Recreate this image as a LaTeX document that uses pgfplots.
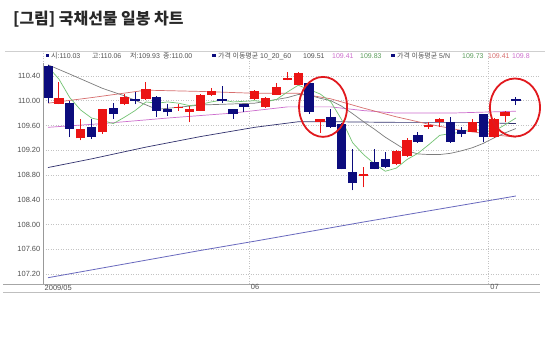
\documentclass[border=0pt]{standalone}
\usepackage{pgfplots}
\pgfplotsset{compat=1.18}
\usepackage{pgfplotstable}
\usepackage{fontspec}
\setmainfont{Liberation Sans}
\newfontfamily\kr{Noto Sans CJK KR}
\definecolor{cred}{RGB}{235,20,20}
\definecolor{cblue}{RGB}{12,12,125}
\definecolor{maA}{RGB}{115,195,115}
\definecolor{maB}{RGB}{125,125,125}
\definecolor{maC}{RGB}{215,110,110}
\definecolor{maD}{RGB}{205,110,205}
\definecolor{maE}{RGB}{50,50,110}
\definecolor{maF}{RGB}{105,105,190}
\definecolor{gridc}{RGB}{195,195,195}
\definecolor{txt}{RGB}{80,80,80}
\definecolor{circ}{RGB}{225,25,30}

% red (up) candles: index open high low close
\pgfplotstableread{
i o h l c
2 109.95 110.30 109.94 110.05
4 109.39 109.70 109.36 109.55
6 109.50 109.87 109.47 109.86
8 109.94 110.11 109.93 110.06
10 110.02 110.30 110.01 110.19
13 109.88 109.94 109.84 109.90
14 109.81 109.92 109.65 109.87
15 109.84 110.11 109.83 110.10
16 110.10 110.21 110.08 110.16
20 110.02 110.17 110.01 110.16
21 109.90 110.06 109.89 110.05
22 110.10 110.29 110.09 110.22
23 110.34 110.46 110.33 110.37
24 110.26 110.46 110.25 110.45
26 109.66 109.71 109.48 109.70
30 108.79 108.93 108.60 108.82
33 108.97 109.21 108.96 109.19
34 109.10 109.39 109.09 109.37
36 109.57 109.65 109.54 109.60
37 109.66 109.72 109.57 109.70
40 109.50 109.70 109.49 109.66
42 109.41 109.72 109.40 109.71
43 109.76 109.83 109.65 109.82
}\redc

% blue (down) candles: index open high low close
\pgfplotstableread{
i o h l c
1 110.56 110.57 109.97 110.05
3 109.97 109.99 109.41 109.55
5 109.58 109.70 109.38 109.41
7 109.89 109.97 109.71 109.79
9 110.03 110.14 109.94 110.00
11 110.06 110.07 109.74 109.84
12 109.86 109.94 109.76 109.81
17 110.02 110.24 109.97 110.00
18 109.86 109.87 109.71 109.78
19 109.94 109.95 109.81 109.90
25 110.29 110.30 109.79 109.82
27 109.74 109.86 109.56 109.57
28 109.63 109.64 108.89 108.90
29 108.85 109.22 108.55 108.67
31 109.01 109.22 108.89 108.90
32 109.06 109.17 108.92 108.93
35 109.44 109.49 109.32 109.33
38 109.65 109.73 109.32 109.33
39 109.52 109.57 109.41 109.46
41 109.78 109.79 109.33 109.42
44 110.03 110.06 109.93 110.00
}\bluec

\begin{document}
\begin{tikzpicture}[x=1bp,y=1bp]
\fill[white] (0,0) rectangle (550,-346);
% frame lines
\draw[gridc!80!white, line width=0.6bp] (5,-51) -- (545,-51);
\draw[black!35, line width=0.7bp] (3,-284) -- (540,-284);
\draw[black!25, line width=0.7bp] (3,-292) -- (540,-292);
\begin{axis}[
  at={(43bp,-284bp)}, anchor=south west,
  width=497bp, height=233bp, scale only axis,
  xmin=0.54, xmax=46.22, ymin=107.038, ymax=110.803,
  axis line style={draw=none},
  clip=false,
  major tick length=0pt,
  ytick={107.2,107.6,108.0,108.4,108.8,109.2,109.6,110.0,110.4},
  xtick={0.54,19.5,41.5},
  xticklabels={2009/05,06,07},
  /pgf/number format/assume math mode=true,
  /pgf/number format/fixed,
  /pgf/number format/fixed zerofill,
  /pgf/number format/precision=2,
  /pgf/number format/1000 sep={},
  tick label style={font=\fontsize{7.5}{8}\selectfont, text=txt},
  xticklabel style={anchor=north west, inner sep=0.5bp, xshift=1bp},
  yticklabel style={inner sep=2.5bp},
  grid=major,
  grid style={gridc, line width=0.6bp, dash pattern=on 1bp off 1.5bp},
]
% long moving averages
\addplot[maF, line width=0.8bp] coordinates {(1,107.14) (15,107.58) (20,107.73) (30,108.04) (44,108.46)};
\addplot[maE, line width=0.7bp] coordinates {(1,108.92) (5,109.06) (10,109.25) (15,109.42) (20,109.57) (24,109.66) (27,109.66) (33,109.65) (40,109.65) (44,109.63)};
\addplot[maD, line width=0.7bp] coordinates {(1,109.57) (6,109.63) (12,109.72) (18,109.80) (23,109.90) (27,109.90) (30,109.84) (33,109.80) (38,109.80) (44,109.83)};
\addplot[maC, line width=0.7bp] coordinates {(1,109.96) (5,110.05) (10,110.17) (15,110.15) (20,110.12) (24,110.12) (27,110.03) (30,109.88) (33,109.74) (36,109.62) (39,109.52) (42,109.45) (44,109.41)};
\addplot[maB, line width=0.7bp] coordinates {(1,110.58) (3,110.43) (6,110.20) (8,110.08) (11,109.86) (15,109.93) (20,109.96) (23,110.05) (24,110.10) (25,110.09) (26,110.04) (27,110.00) (28,109.91) (29,109.79) (30,109.66) (31,109.54) (32,109.41) (33,109.30) (34,109.19) (35,109.14) (36,109.13) (37,109.13) (38,109.15) (39,109.19) (40,109.24) (41,109.31) (42,109.40) (43,109.48) (44,109.55)};
\addplot[maA, line width=0.7bp] coordinates {(1,110.55) (2,110.35) (3,110.05) (4,109.85) (5,109.72) (6,109.68) (7,109.63) (8,109.73) (9,109.84) (10,109.98) (11,109.96) (12,109.98) (13,109.96) (14,109.92) (15,109.94) (16,109.98) (17,110.01) (18,109.98) (19,109.99) (20,110.00) (21,109.98) (22,110.02) (23,110.14) (24,110.25) (25,110.18) (26,110.11) (27,109.98) (28,109.69) (29,109.32) (30,109.13) (31,108.98) (32,108.86) (33,108.91) (34,109.05) (35,109.15) (36,109.29) (37,109.44) (38,109.47) (39,109.49) (40,109.55) (41,109.51) (42,109.51) (43,109.61) (44,109.72)};
% candles: wicks then bodies
\addplot[cred, line width=0.9bp, quiver={u=0, v=\thisrow{h}-\thisrow{l}}] table[x=i, y=l] {\redc};
\addplot[cred, line width=9.3bp, quiver={u=0, v=\thisrow{c}-\thisrow{o}}] table[x=i, y=o] {\redc};
\addplot[cblue, line width=0.9bp, quiver={u=0, v=\thisrow{h}-\thisrow{l}}] table[x=i, y=l] {\bluec};
\addplot[cblue, line width=9.3bp, quiver={u=0, v=\thisrow{o}-\thisrow{c}}] table[x=i, y=c] {\bluec};
% annotation ellipses
\draw[circ, line width=1.8bp] (axis cs:26.28,109.90) ellipse [x radius=24bp, y radius=30bp];
\draw[circ, line width=1.8bp] (axis cs:43.92,109.89) ellipse [x radius=25bp, y radius=29bp];
\end{axis}
% y axis line
\draw[black!40, line width=0.7bp] (43,-63) -- (43,-284);
% title
\node[anchor=base west, inner sep=0, text={rgb,255:red,40;green,40;blue,40},
  font=\kr\bfseries\fontsize{16}{18}\selectfont] at (13,-24) {[그림] 국채선물 일봉 차트};
% legend row
\begin{scope}[every node/.style={anchor=base west, inner sep=0, font=\fontsize{7}{8}\selectfont, text=txt}]
\fill[cblue] (45.5,-53.5) rectangle (49,-57);
\node at (51,-58) {{\kr 시}:110.03};
\node at (92,-58) {{\kr 고}:110.06};
\node at (130,-58) {{\kr 저}:109.93};
\node at (163,-58) {{\kr 종}:110.00};
\fill[cblue] (212,-53.5) rectangle (215.5,-57);
\node at (218,-58) {{\kr 가격 이동평균} 10\_20\_60};
\node at (303,-58) {109.51};
\node[text=maD] at (332,-58) {109.41};
\node[text=maA!80!black] at (360,-58) {109.83};
\fill[cblue] (391,-53.5) rectangle (394.5,-57);
\node at (397,-58) {{\kr 가격 이동평균} 5/N};
\node[text=maA!80!black] at (462,-58) {109.73};
\node[text=maC] at (488,-58) {109.41};
\node[text=maD] at (512,-58) {109.8};
\end{scope}
\end{tikzpicture}
\end{document}
